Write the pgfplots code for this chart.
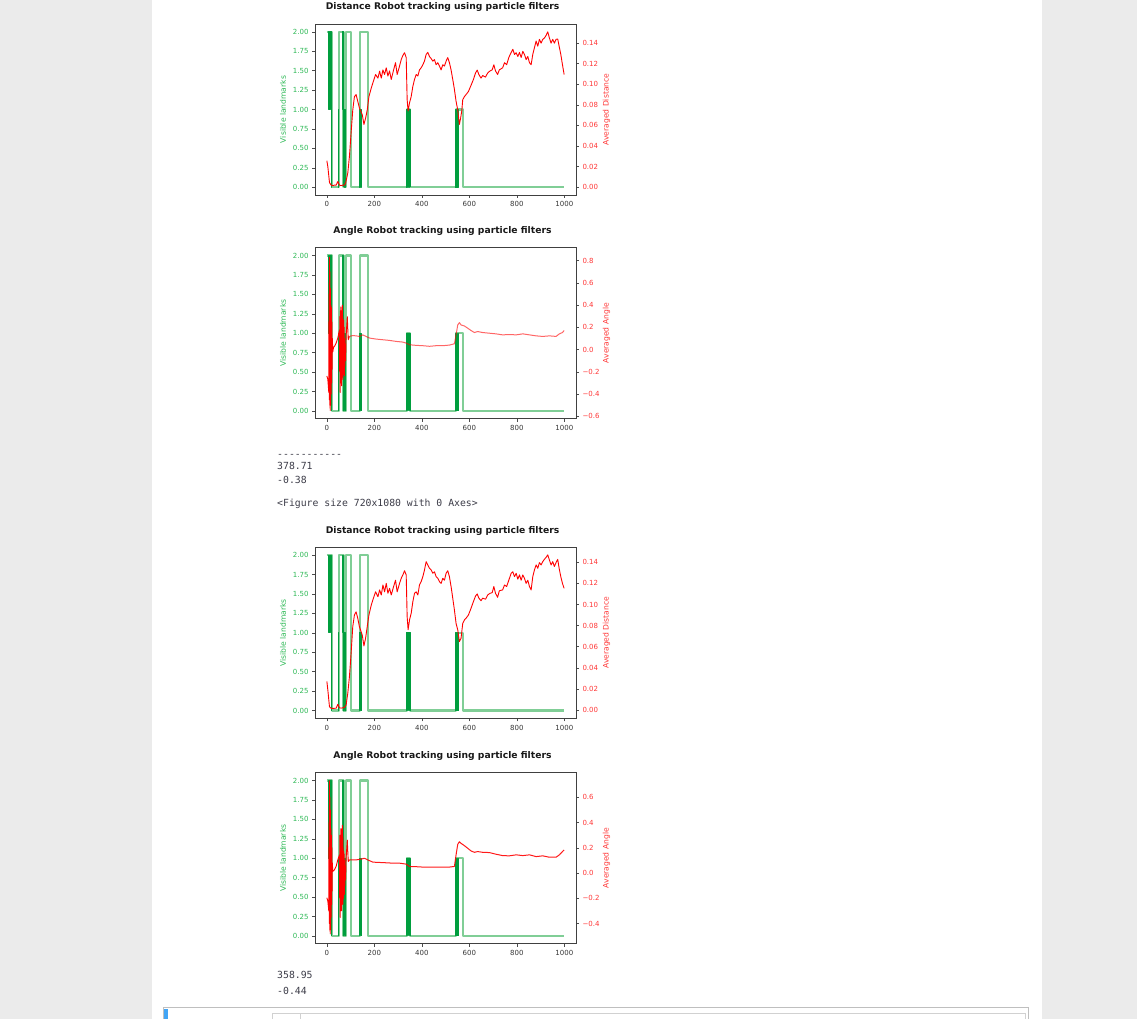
\documentclass[border=0pt]{standalone}
\usepackage{pgfplots}
\pgfplotsset{compat=1.18}
\usepackage{fontspec}
\setmainfont{DejaVu Sans}
\newfontfamily\monofont{DejaVu Sans Mono}
\definecolor{pagegray}{RGB}{235,235,235}
\definecolor{gline}{RGB}{128,206,150}
\definecolor{gdark}{RGB}{0,158,62}
\definecolor{glabel}{RGB}{45,185,85}
\definecolor{rlabel}{RGB}{255,55,55}
\definecolor{txtgray}{RGB}{55,55,55}
\definecolor{outgray}{RGB}{60,60,72}
\definecolor{cellblue}{RGB}{66,165,245}

\pgfplotsset{
  base/.style={
    scale only axis, width=261pt, height=171pt, anchor=north west,
    xmin=-50, xmax=1049,
    tick align=outside, major tick length=3pt,
    tick style={black!70, line width=0.5pt},
    axis line style={black!75, line width=0.8pt},
    /pgf/number format/assume math mode=true,
    ticklabel style={font=\fontsize{7}{8}\selectfont},
    every axis plot/.append style={line join=round},
  },
  leftax/.style={base,
    ymin=-0.1, ymax=2.1,
    xtick={0,200,400,600,800,1000},
    xticklabels={0,200,400,600,800,1000},
    xtick pos=bottom, ytick pos=left,
    xticklabel style={text=txtgray},
    ytick={0,0.25,0.5,0.75,1,1.25,1.5,1.75,2},
    yticklabels={0.00,0.25,0.50,0.75,1.00,1.25,1.50,1.75,2.00},
    yticklabel style={text=glabel},
    ylabel={Visible landmarks},
    every axis y label/.style={at={(axis description cs:-0.1226,0.5)}, rotate=90, anchor=center, text=glabel, font=\fontsize{7.6}{8}\selectfont},
    every axis title/.style={at={(0.5,1)}, anchor=base, yshift=14pt, xshift=-3pt, font=\bfseries\fontsize{9.2}{10}\selectfont, text=black!90},
  },
  rightax/.style={base,
    axis y line*=right, axis x line=none,
    axis line style={-},
    ytick pos=right,
    yticklabel style={text=rlabel},
    every axis y label/.style={at={(axis description cs:1.117,0.5)}, rotate=90, anchor=center, text=rlabel, font=\fontsize{7.6}{8}\selectfont},
  },
}

\newcommand{\greenplots}{%
  \addplot[gline, line width=2.2pt, const plot] coordinates {(0,2)(20,0)(50,2)(70,0)(81,2)(100,0)(139,2)(172,0)(336,1)(350,0)(543,1)(572,0)(999,0)};
  \addplot[gdark, line width=0.9pt, const plot] coordinates {(5,2)(6,1)(7,2)(8,1)(9,2)(10,1)(11,2)(12,1)(13,2)(14,1)(15,2)(16,1)(17,2)(18,1)(19,0)(20,1)(21,0)};
  \addplot[gdark, line width=0.9pt, const plot] coordinates {(46,0)(47,1)(48,0)(49,1)(50,0)};
  \addplot[gdark, line width=0.9pt, const plot] coordinates {(63,2)(64,1)(65,2)(66,1)(67,2)(68,1)(69,2)(70,1)(71,0)};
  \addplot[gdark, line width=0.9pt, const plot] coordinates {(72,1)(73,0)(74,1)(75,0)(76,1)(77,0)(78,1)(79,0)};
  \addplot[gdark, line width=0.9pt, const plot] coordinates {(136,0)(137,1)(138,0)(139,1)(140,0)(141,1)(142,0)(143,1)(144,0)(145,1)(146,0)};
  \addplot[gdark, line width=0.9pt, const plot] coordinates {(334,0)(335,1)(336,0)(337,1)(338,0)(339,1)(340,0)(341,1)(342,0)(343,1)(344,0)(345,1)(346,0)(347,1)(348,0)(349,1)(350,0)};
  \addplot[gdark, line width=0.9pt, const plot] coordinates {(541,0)(542,1)(543,0)(544,1)(545,0)(546,1)(547,0)(548,1)(549,0)(550,1)(551,0)(552,1)(553,0)};
}

\begin{document}
\begin{tikzpicture}
\fill[pagegray] (0,0) rectangle (1137pt,-1019pt);
\fill[white] (152pt,0) rectangle (1042pt,-1019pt);
\useasboundingbox (0,0) rectangle (1137pt,-1019pt);

% ---------- Plot 1: distance ----------
\begin{axis}[leftax, at={(315pt,-24pt)}, title={Distance Robot tracking using particle filters}]
\greenplots
\end{axis}
\begin{axis}[rightax, at={(315pt,-24pt)}, ymin=-0.0076, ymax=0.1586,
  ytick={0,0.02,0.04,0.06,0.08,0.1,0.12,0.14},
  yticklabels={0.00,0.02,0.04,0.06,0.08,0.10,0.12,0.14},
  ylabel={Averaged Distance}]
\addplot[red, line width=0.9pt] coordinates {(0,0.0257)(4,0.020)(11,0.0045)(18,0.002)(25,0.0015)(32,0.002)(39,0.002)(46,0.0055)(53,0.002)(60,0.0015)(67,0.002)(74,0.002)(79,0.004)(88,0.0137)(95,0.030)(102,0.053)(109,0.075)(116,0.088)(123,0.090)(130,0.0835)(137,0.077)(149,0.0705)(156,0.061)(163,0.067)(170,0.075)(177,0.088)(187,0.0965)(196,0.103)(205,0.1095)(215,0.106)(222,0.1128)(229,0.106)(236,0.114)(243,0.1095)(250,0.116)(257,0.108)(264,0.113)(271,0.1047)(281,0.114)(289,0.121)(296,0.1095)(306,0.1177)(313,0.124)(320,0.128)(327,0.1307)(334,0.126)(338,0.085)(342,0.074)(348,0.082)(355,0.088)(362,0.098)(369,0.1047)(376,0.1095)(383,0.108)(390,0.114)(397,0.116)(404,0.119)(411,0.1225)(418,0.129)(425,0.131)(432,0.127)(439,0.125)(446,0.1225)(453,0.124)(460,0.119)(467,0.121)(474,0.1177)(481,0.114)(488,0.119)(495,0.1177)(502,0.1225)(509,0.126)(516,0.121)(523,0.114)(530,0.1047)(537,0.095)(544,0.0835)(551,0.075)(558,0.061)(562,0.0656)(568,0.074)(572,0.085)(579,0.088)(586,0.090)(596,0.093)(607,0.099)(617,0.1047)(626,0.111)(633,0.1138)(640,0.1095)(649,0.106)(656,0.1085)(668,0.107)(677,0.111)(687,0.113)(696,0.114)(703,0.119)(710,0.113)(719,0.1095)(726,0.114)(740,0.116)(748,0.121)(757,0.119)(766,0.126)(776,0.131)(783,0.134)(790,0.129)(797,0.1307)(804,0.127)(811,0.131)(818,0.126)(825,0.132)(832,0.129)(839,0.124)(846,0.127)(853,0.121)(860,0.119)(867,0.129)(874,0.1355)(881,0.142)(888,0.137)(895,0.1437)(902,0.140)(909,0.1437)(916,0.145)(923,0.1475)(930,0.151)(937,0.145)(944,0.140)(951,0.1437)(958,0.140)(965,0.1437)(972,0.144)(978,0.137)(985,0.129)(992,0.119)(999,0.1095)};
\end{axis}

% ---------- Plot 2: angle ----------
\begin{axis}[leftax, at={(315pt,-247.7pt)}, title={Angle Robot tracking using particle filters}]
\greenplots
\end{axis}
\begin{axis}[rightax, at={(315pt,-247.7pt)}, ymin=-0.621, ymax=0.917,
  ytick={-0.6,-0.4,-0.2,0,0.2,0.4,0.6,0.8},
  yticklabels={−0.6,−0.4,−0.2,0.0,0.2,0.4,0.6,0.8},
  ylabel={Averaged Angle}]
\addplot[red, line width=0.9pt] coordinates {(0,-0.237)(4,-0.267)(8,-0.385)(9,0.5)(10,-0.45)(11,0.83)(12,-0.5)(13,0.7)(14,-0.548)(15,0.55)(16,-0.5)(17,0.4)(18,-0.4)(19,0.38)(20,-0.3)(21,0.25)(22,-0.178)(23,0.1)(25,-0.02)(28,0.02)(32,0.03)(39,0.06)(46,0.104)(53,0.178)(54,-0.2)(55,0.3)(56,-0.385)(57,0.35)(58,-0.3)(59,0.385)(60,-0.2)(61,0.3)(62,-0.326)(63,0.35)(64,-0.25)(65,0.4)(66,-0.1)(67,0.3)(68,-0.267)(69,0.2)(70,-0.2)(71,0.267)(72,-0.1)(73,0.2)(74,-0.237)(75,0.1)(76,-0.15)(78,0.05)(79,-0.1)(81,0.119)(86,0.296)(90,0.089)(95,0.119)};
\addplot[red, opacity=0.6, line width=1pt] coordinates {(95,0.119)(109,0.127)(123,0.124)(137,0.119)(151,0.133)(165,0.119)(180,0.104)(208,0.095)(236,0.089)(264,0.083)(292,0.074)(320,0.068)(334,0.059)(348,0.044)(376,0.0385)(404,0.0356)(432,0.03)(460,0.0356)(488,0.0356)(516,0.041)(537,0.053)(544,0.133)(551,0.222)(558,0.243)(565,0.222)(579,0.213)(593,0.193)(607,0.172)(621,0.154)(635,0.163)(656,0.154)(684,0.148)(712,0.142)(740,0.133)(768,0.136)(797,0.133)(825,0.142)(853,0.133)(881,0.124)(909,0.119)(937,0.124)(965,0.119)(979,0.142)(992,0.154)(999,0.172)};
\end{axis}

% ---------- notebook output text ----------
\begin{scope}[every node/.style={anchor=base west, inner sep=0pt, text=outgray, font=\monofont\fontsize{9.8}{11}\selectfont}]
\node at (277pt,-457pt) {-----------};
\node at (277pt,-469.3pt) {378.71};
\node at (277pt,-483.6pt) {-0.38};
\node at (277pt,-506.3pt) {<Figure size 720x1080 with 0 Axes>};
\node at (277pt,-978.6pt) {358.95};
\node at (277pt,-994.6pt) {-0.44};
\end{scope}

% ---------- Plot 3: distance ----------
\begin{axis}[leftax, at={(315pt,-547.3pt)}, title={Distance Robot tracking using particle filters}]
\greenplots
\end{axis}
\begin{axis}[rightax, at={(315pt,-547.3pt)}, ymin=-0.0079, ymax=0.1542,
  ytick={0,0.02,0.04,0.06,0.08,0.1,0.12,0.14},
  yticklabels={0.00,0.02,0.04,0.06,0.08,0.10,0.12,0.14},
  ylabel={Averaged Distance}]
\addplot[red, line width=0.9pt] coordinates {(0,0.027)(4,0.019)(11,0.003)(18,0.0016)(25,0.0015)(32,0.0016)(39,0.0016)(46,0.0054)(53,0.002)(60,0.0018)(67,0.002)(74,0.0025)(81,0.0047)(88,0.0158)(95,0.0316)(102,0.0537)(109,0.079)(116,0.090)(123,0.093)(130,0.087)(137,0.079)(149,0.071)(156,0.0607)(163,0.068)(170,0.079)(177,0.090)(187,0.0995)(196,0.106)(205,0.112)(215,0.1074)(222,0.1138)(229,0.109)(236,0.1185)(243,0.112)(250,0.120)(257,0.1106)(264,0.1153)(271,0.109)(281,0.117)(289,0.123)(296,0.112)(306,0.120)(313,0.1248)(320,0.128)(327,0.132)(334,0.128)(338,0.0885)(342,0.076)(348,0.0853)(355,0.0916)(362,0.1027)(369,0.1106)(376,0.112)(383,0.109)(390,0.1185)(397,0.1217)(404,0.1264)(411,0.1327)(418,0.1406)(425,0.1375)(432,0.1343)(439,0.1327)(446,0.1296)(453,0.131)(460,0.1264)(467,0.1248)(474,0.1217)(481,0.120)(488,0.1248)(495,0.123)(502,0.1296)(509,0.132)(516,0.1264)(523,0.117)(530,0.106)(537,0.0948)(544,0.082)(551,0.076)(558,0.0648)(565,0.068)(572,0.082)(579,0.0853)(586,0.087)(596,0.090)(607,0.0964)(617,0.1027)(626,0.108)(633,0.110)(640,0.106)(649,0.1036)(656,0.106)(668,0.105)(677,0.109)(687,0.1106)(696,0.1112)(703,0.117)(710,0.1106)(719,0.1068)(726,0.113)(740,0.1138)(748,0.1185)(757,0.117)(766,0.123)(776,0.1296)(783,0.131)(790,0.1264)(797,0.1296)(804,0.124)(811,0.128)(818,0.123)(825,0.128)(832,0.1248)(839,0.120)(846,0.123)(853,0.117)(860,0.1138)(867,0.1264)(874,0.1327)(881,0.1375)(888,0.1343)(895,0.1397)(902,0.1375)(909,0.1406)(916,0.1428)(923,0.1447)(930,0.147)(937,0.1422)(944,0.1375)(951,0.1406)(958,0.136)(965,0.1397)(972,0.1428)(978,0.1343)(985,0.1264)(992,0.120)(999,0.1153)};
\end{axis}

% ---------- Plot 4: angle ----------
\begin{axis}[leftax, at={(315pt,-772.7pt)}, title={Angle Robot tracking using particle filters}]
\greenplots
\end{axis}
\begin{axis}[rightax, at={(315pt,-772.7pt)}, ymin=-0.5605, ymax=0.795,
  ytick={-0.4,-0.2,0,0.2,0.4,0.6},
  yticklabels={−0.4,−0.2,0.0,0.2,0.4,0.6},
  ylabel={Averaged Angle}]
\addplot[red, line width=0.9pt] coordinates {(0,-0.196)(4,-0.222)(8,-0.30)(9,0.4)(10,-0.4)(11,0.73)(12,-0.45)(13,0.6)(14,-0.483)(15,0.5)(16,-0.45)(17,0.35)(18,-0.35)(19,0.3)(20,-0.25)(21,0.2)(22,-0.144)(23,0.08)(25,0.013)(32,0.026)(39,0.052)(46,0.104)(53,0.144)(54,-0.2)(55,0.3)(56,-0.352)(57,0.3)(58,-0.3)(59,0.352)(60,-0.2)(61,0.3)(62,-0.30)(63,0.35)(64,-0.25)(65,0.378)(66,-0.1)(67,0.3)(68,-0.248)(69,0.2)(70,-0.2)(71,0.17)(72,-0.1)(73,0.15)(74,-0.17)(75,0.1)(76,-0.1)(78,0.05)(79,-0.05)(81,0.117)(86,0.261)(90,0.091)(95,0.104)};
\addplot[red, opacity=0.9, line width=1pt] coordinates {(95,0.104)(109,0.104)(123,0.104)(144,0.11)(158,0.117)(172,0.104)(194,0.086)(222,0.0836)(250,0.081)(278,0.078)(306,0.078)(334,0.0705)(348,0.052)(376,0.05)(404,0.047)(432,0.047)(460,0.047)(488,0.047)(516,0.047)(537,0.052)(544,0.144)(551,0.227)(558,0.248)(565,0.235)(579,0.217)(593,0.196)(607,0.175)(621,0.164)(635,0.17)(656,0.164)(684,0.162)(712,0.149)(740,0.138)(768,0.136)(797,0.144)(825,0.138)(853,0.144)(881,0.13)(909,0.136)(937,0.125)(965,0.125)(979,0.144)(992,0.17)(999,0.183)};
\end{axis}

% ---------- bottom cell ----------
\draw[black!25, line width=0.8pt] (163.5pt,-1025pt) -- (163.5pt,-1007.5pt) -- (1028.5pt,-1007.5pt) -- (1028.5pt,-1025pt);
\fill[cellblue] (164pt,-1009pt) rectangle (167.5pt,-1019pt);
\draw[black!18, line width=0.7pt] (272pt,-1025pt) -- (272pt,-1013.5pt) -- (1025pt,-1013.5pt) -- (1025pt,-1025pt);
\draw[black!18, line width=0.7pt] (300pt,-1013.5pt) -- (300pt,-1025pt);
\end{tikzpicture}
\end{document}
